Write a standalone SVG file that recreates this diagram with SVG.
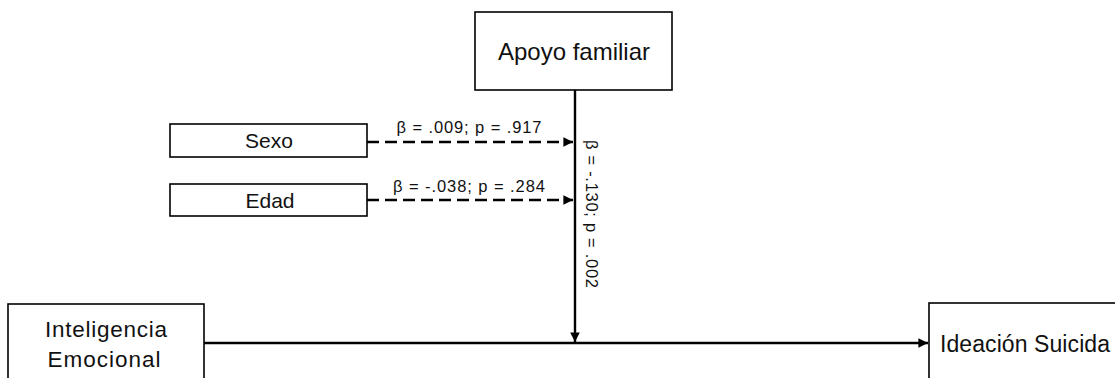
<svg xmlns="http://www.w3.org/2000/svg" width="1115" height="378" viewBox="0 0 1115 378">
<style>
.box{fill:#fff;stroke:#000;stroke-width:1.6}
.t{font-family:"Liberation Sans",Arial,sans-serif;fill:#111}
.lbl{font-family:"Liberation Sans",Arial,sans-serif;font-size:16.5px;fill:#111}
.ln{stroke:#000;stroke-width:2.4;fill:none}
.dash{stroke-dasharray:12 6}
</style>
<defs>
<marker id="ah" viewBox="0 0 10 10" refX="10" refY="5" markerWidth="4" markerHeight="4" orient="auto" markerUnits="strokeWidth">
<path d="M0,0 L10,5 L0,10 z" fill="#000"/>
</marker>
</defs>
<rect width="1115" height="378" fill="#fff"/>
<g id="connectors">
<line class="ln" x1="575" y1="90" x2="575" y2="342" marker-end="url(#ah)"/>
<line class="ln" x1="204" y1="343" x2="928" y2="343" marker-end="url(#ah)"/>
<line class="ln dash" x1="367" y1="142" x2="573" y2="142" marker-end="url(#ah)"/>
<line class="ln dash" x1="367" y1="200" x2="573" y2="200" marker-end="url(#ah)"/>
<text class="lbl" x="469" y="133" text-anchor="middle" textLength="145">β = .009; p = .917</text>
<text class="lbl" x="469" y="192" text-anchor="middle" textLength="152">β = -.038; p = .284</text>
<text class="lbl" transform="translate(586,140) rotate(90)" x="0" y="0" textLength="148">β = -.130; p = .002</text>
</g>
<g id="apoyo">
<rect class="box" x="475" y="12" width="197" height="78"/>
<text class="t" x="574" y="60" font-size="24" text-anchor="middle">Apoyo familiar</text>
</g>
<g id="sexo">
<rect class="box" x="170" y="124" width="197" height="33"/>
<text class="t" x="269" y="148" font-size="21" text-anchor="middle">Sexo</text>
</g>
<g id="edad">
<rect class="box" x="170" y="184" width="197" height="32"/>
<text class="t" x="270" y="208" font-size="21" text-anchor="middle">Edad</text>
</g>
<g id="inteligencia">
<rect class="box" x="8" y="304" width="196" height="90"/>
<text class="t" x="106" y="337" font-size="22.5" text-anchor="middle" textLength="122">Inteligencia</text>
<text class="t" x="104" y="367" font-size="22.5" text-anchor="middle" textLength="113">Emocional</text>
</g>
<g id="ideacion">
<rect class="box" x="929" y="303" width="200" height="90"/>
<text class="t" x="940" y="352" font-size="23" textLength="170">Ideación Suicida</text>
</g>
</svg>
